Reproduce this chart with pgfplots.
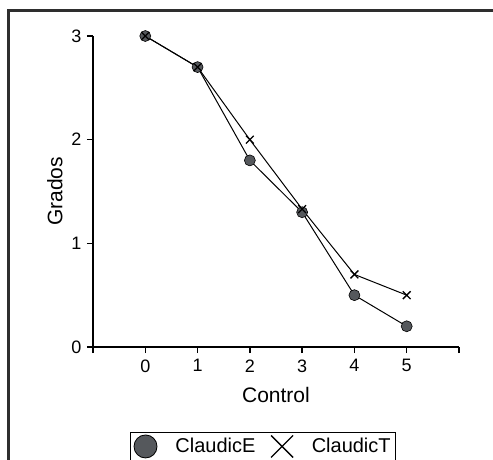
\documentclass[border=0pt]{standalone}
\usepackage{fontspec}
\setmainfont{Liberation Sans}
\usepackage{pgfplots}
\pgfplotsset{compat=1.18}
\definecolor{markgray}{HTML}{55585C}
\definecolor{framegray}{HTML}{2E2E2E}
\begin{document}
\begin{tikzpicture}[x=1pt,y=1pt]
\draw[framegray, line width=3pt] (8,-20) -- (8,448.5) -- (520,448.5);
\begin{axis}[
  at={(93pt,112pt)}, anchor=south west,
  scale only axis, width=366pt, height=311pt,
  xmin=-1, xmax=6, ymin=0, ymax=3,
  axis x line*=bottom, axis y line*=left,
  axis line style={black, line width=1.3pt},
  tick style={black, line width=1.3pt},
  major tick length=6pt, tick align=outside,
  xtick={-1,0,...,6}, xticklabels={,0,1,2,3,4,5,},
  ytick={0,1,2,3},
  /pgf/number format/assume math mode=true,
  tick label style={font=\fontsize{18}{18}\selectfont},
  x tick label style={yshift=-3pt},
  y tick label style={xshift=-2pt},
  xlabel={Control}, ylabel={Grados},
  xlabel style={font=\fontsize{21}{21}\selectfont, at={(axis description cs:0.5,-0.154)}, anchor=center},
  ylabel style={font=\fontsize{21}{21}\selectfont, at={(axis description cs:-0.104,0.5)}, anchor=center},
  clip=false,
  legend columns=2,
  legend style={at={(axis description cs:0.101,-0.273)}, anchor=north west,
    draw=black, line width=1.3pt, font=\fontsize{20}{20}\selectfont,
    inner xsep=3pt, inner ysep=2pt,
    /tikz/every odd column/.append style={column sep=16pt},
    /tikz/every even column/.append style={column sep=13pt}},
]
\addplot[black, line width=1pt, mark=*, mark size=5.5pt,
  mark options={fill=markgray, draw=black, line width=0.6pt},
  legend image code/.code={\draw[black, fill=markgray, line width=0.8pt] (11.5pt,0pt) circle (11.5pt);}]
  coordinates {(0,3) (1,2.7) (2,1.8) (3,1.3) (4,0.5) (5,0.2)};
\addlegendentry{ClaudicE}
\addplot[black, line width=1pt, mark=x, mark size=5.5pt,
  mark options={line width=1.3pt},
  legend image code/.code={\draw[black, line width=1.3pt] (0pt,-11pt) -- (22pt,11pt) (0pt,11pt) -- (22pt,-11pt);}]
  coordinates {(0,3) (1,2.7) (2,2.0) (3,1.33) (4,0.7) (5,0.5)};
\addlegendentry{ClaudicT}
\end{axis}
\pgfresetboundingbox
\path[use as bounding box] (0,0) rectangle (493,459);
\end{tikzpicture}
\end{document}
